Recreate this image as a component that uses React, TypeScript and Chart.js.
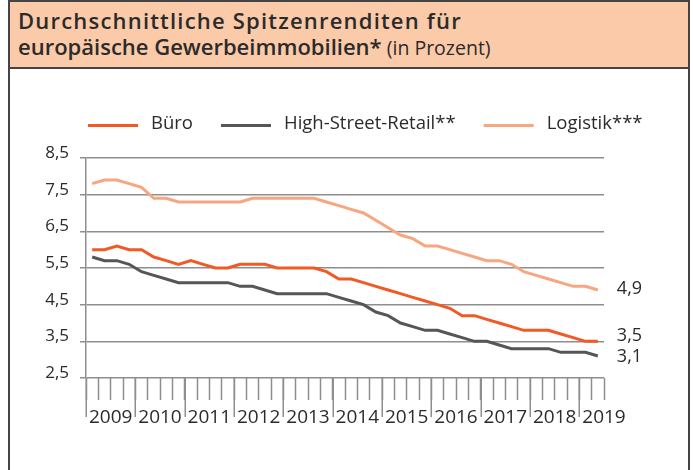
import React, { useEffect, useRef } from 'react';
import { Chart, registerables } from 'chart.js';

Chart.register(...registerables);

// ---------- data ----------
const years = ['2009', '2010', '2011', '2012', '2013', '2014', '2015', '2016', '2017', '2018', '2019'];
const quarterNames = ['Q1', 'Q2', 'Q3', 'Q4'];
// quarterly periods 2009 Q1 – 2019 Q2
const categories = years.flatMap((y) => quarterNames.map((q) => `${q} ${y}`)).slice(0, 42);

const seriesLabels = ['Büro', 'High-Street-Retail**', 'Logistik***'];

const bueroValues = [
  6.0, 6.0, 6.1, 6.0, 6.0, 5.8, 5.7, 5.6, 5.7, 5.6,
  5.5, 5.5, 5.6, 5.6, 5.6, 5.5, 5.5, 5.5, 5.5, 5.4,
  5.2, 5.2, 5.1, 5.0, 4.9, 4.8, 4.7, 4.6, 4.5, 4.4,
  4.2, 4.2, 4.1, 4.0, 3.9, 3.8, 3.8, 3.8, 3.7, 3.6,
  3.5, 3.5,
];
const retailValues = [
  5.8, 5.7, 5.7, 5.6, 5.4, 5.3, 5.2, 5.1, 5.1, 5.1,
  5.1, 5.1, 5.0, 5.0, 4.9, 4.8, 4.8, 4.8, 4.8, 4.8,
  4.7, 4.6, 4.5, 4.3, 4.2, 4.0, 3.9, 3.8, 3.8, 3.7,
  3.6, 3.5, 3.5, 3.4, 3.3, 3.3, 3.3, 3.3, 3.2, 3.2,
  3.2, 3.1,
];
const logistikValues = [
  7.8, 7.9, 7.9, 7.8, 7.7, 7.4, 7.4, 7.3, 7.3, 7.3,
  7.3, 7.3, 7.3, 7.4, 7.4, 7.4, 7.4, 7.4, 7.4, 7.3,
  7.2, 7.1, 7.0, 6.8, 6.6, 6.4, 6.3, 6.1, 6.1, 6.0,
  5.9, 5.8, 5.7, 5.7, 5.6, 5.4, 5.3, 5.2, 5.1, 5.0,
  5.0, 4.9,
];

const yMin = 2.5;
const yMax = 8.5;
const yStep = 1;

// ---------- style ----------
const FONT = '"Open Sans", "DejaVu Sans", sans-serif';
const TEXT = '#2b2b2b';
const GRID = '#8e8e8e';
const COLORS = ['#f15a24', '#565656', '#f8a67f'];
const HEADER_FILL = '#fbcaa9';
const FRAME = '#444444';

// layout (pixels)
const PAD = { left: 20, right: 89, top: 158, bottom: 32 };
const Y_AXIS_W = 66;
const X_AXIS_H = 60;
const CANVAS_W = 693;
const CANVAS_H = 470;
const PLOT_W = CANVAS_W - PAD.left - Y_AXIS_W - PAD.right;
const endLabelNudge = [-5, 1, -1];

const fmt = (v: number) => v.toFixed(1).replace('.', ',');

const yearTicksPlugin = {
  id: 'yearTicks',
  afterDraw(chart: any) {
    const xs = chart.scales.x;
    const ctx = chart.ctx;
    const half = (xs.getPixelForValue(1) - xs.getPixelForValue(0)) / 2;
    ctx.save();
    ctx.strokeStyle = GRID;
    ctx.lineWidth = 1.5;
    for (let i = 0; i < categories.length; i += 4) {
      const px = Math.round(xs.getPixelForValue(i) - half) + 0.25;
      ctx.beginPath();
      ctx.moveTo(px, xs.top);
      ctx.lineTo(px, xs.top + 39);
      ctx.stroke();
    }
    ctx.restore();
  },
};

const endLabelsPlugin = {
  id: 'endLabels',
  afterDatasetsDraw(chart: any) {
    const ctx = chart.ctx;
    ctx.save();
    ctx.font = `18px ${FONT}`;
    ctx.fillStyle = TEXT;
    ctx.textBaseline = 'middle';
    ctx.textAlign = 'left';
    chart.data.datasets.forEach((ds: any, i: number) => {
      const meta = chart.getDatasetMeta(i);
      const pt = meta.data[meta.data.length - 1];
      const v = ds.data[ds.data.length - 1];
      ctx.fillText(fmt(v), pt.x + 19, pt.y + endLabelNudge[i]);
    });
    ctx.restore();
  },
};

const legendPlugin = {
  id: 'lineLegend',
  afterDraw(chart: any) {
    const { ctx, chartArea } = chart;
    ctx.save();
    ctx.font = `18.5px ${FONT}`;
    ctx.textBaseline = 'middle';
    ctx.textAlign = 'left';
    let x = chartArea.left + 2;
    const y = chartArea.top - 34;
    chart.data.datasets.forEach((ds: any) => {
      ctx.strokeStyle = ds.borderColor;
      ctx.lineWidth = 3;
      ctx.beginPath();
      ctx.moveTo(x, y + 1.5);
      ctx.lineTo(x + 50, y + 1.5);
      ctx.stroke();
      ctx.fillStyle = TEXT;
      ctx.fillText(ds.label, x + 63, y);
      x += 63 + ctx.measureText(ds.label).width + 28;
    });
    ctx.restore();
  },
};

function ChartCanvas() {
  const ref = useRef<HTMLCanvasElement | null>(null);
  useEffect(() => {
    if (!ref.current) return;
    const seriesValues = [bueroValues, retailValues, logistikValues];
    const chart = new Chart(ref.current, {
      type: 'line',
      data: {
        labels: categories,
        datasets: seriesLabels.map((label, i) => ({
          label,
          data: seriesValues[i],
          borderColor: COLORS[i],
          backgroundColor: COLORS[i],
          borderWidth: 3,
          pointRadius: 0,
          tension: 0,
          fill: false,
        })),
      },
      options: {
        animation: false,
        responsive: false,
        maintainAspectRatio: false,
        layout: { padding: PAD },
        plugins: {
          legend: { display: false },
          tooltip: { enabled: false },
          title: { display: false },
        },
        scales: {
          x: {
            type: 'category',
            offset: true,
            afterFit: (s: any) => {
              s.height = X_AXIS_H;
            },
            border: { display: false },
            grid: {
              offset: true,
              drawOnChartArea: false,
              drawTicks: true,
              tickLength: 22,
              tickColor: GRID,
              tickWidth: 1.5,
              color: GRID,
            },
            ticks: {
              autoSkip: false,
              maxRotation: 0,
              minRotation: 0,
              padding: 6,
              labelOffset: PLOT_W / categories.length / 2,
              color: TEXT,
              font: { family: FONT, size: 19 },
              callback: (_v: any, i: number) => (i % 4 === 1 ? categories[i].slice(3) : ''),
            },
          },
          y: {
            min: yMin,
            max: yMax,
            afterFit: (s: any) => {
              s.width = Y_AXIS_W;
            },
            border: { display: true, color: GRID, width: 1.5 },
            grid: {
              color: GRID,
              lineWidth: 1.5,
              drawTicks: true,
              tickLength: 6,
              tickColor: GRID,
              tickWidth: 1.5,
            },
            ticks: {
              stepSize: yStep,
              padding: 11,
              labelOffset: -5,
              color: TEXT,
              font: { family: FONT, size: 17 },
              callback: (v: any) => fmt(Number(v)),
            },
          },
        },
      },
      plugins: [yearTicksPlugin, endLabelsPlugin, legendPlugin],
    } as any);
    return () => chart.destroy();
  }, []);
  return (
    <canvas
      ref={ref}
      width={CANVAS_W}
      height={CANVAS_H}
      style={{ position: 'absolute', left: 0, top: 0, width: CANVAS_W, height: CANVAS_H, display: 'block' }}
    />
  );
}

export default function App() {
  return (
    <div
      style={{
        position: 'absolute',
        left: 0,
        top: 0,
        width: CANVAS_W,
        height: CANVAS_H,
        overflow: 'hidden',
        background: '#ffffff',
        fontFamily: FONT,
        color: TEXT,
      }}
    >
      <div
        style={{
          position: 'absolute',
          left: 8,
          top: 0,
          width: 682,
          height: 490,
          border: `2px solid ${FRAME}`,
          boxSizing: 'border-box',
        }}
      />
      <div
        style={{
          position: 'absolute',
          left: 8,
          top: 0,
          width: 682,
          height: 69,
          background: HEADER_FILL,
          border: `2px solid ${FRAME}`,
          boxSizing: 'border-box',
          padding: '5px 0 0 8px',
          lineHeight: '26px',
        }}
      >
        <div style={{ fontSize: 22, fontWeight: 600, letterSpacing: 1.2 }}>Durchschnittliche Spitzenrenditen für</div>
        <div>
          <span style={{ fontSize: 22, fontWeight: 600 }}>europäische Gewerbeimmobilien*</span>
          <span style={{ fontSize: 19.5 }}> (in Prozent)</span>
        </div>
      </div>
      <ChartCanvas />
    </div>
  );
}
